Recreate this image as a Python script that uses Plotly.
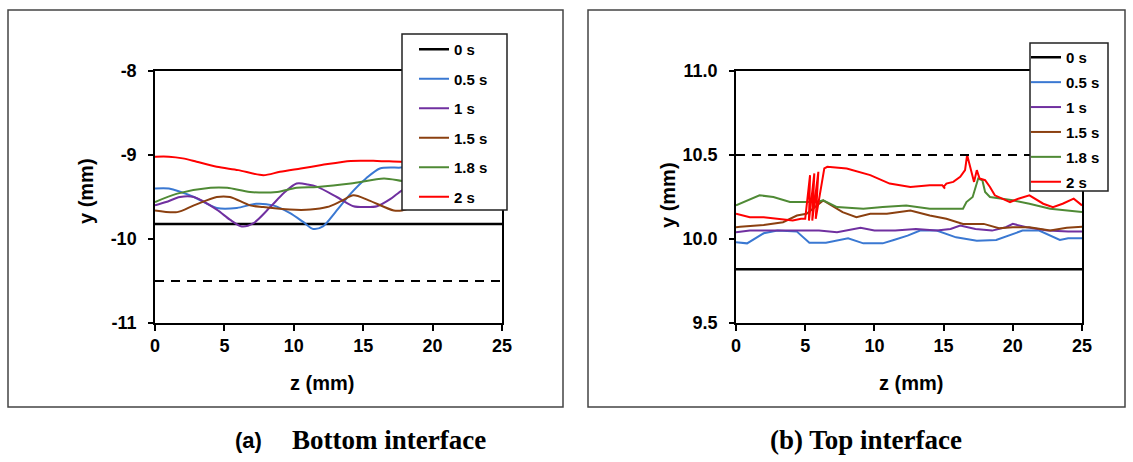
import plotly.graph_objects as go

W, H = 1133, 462

# ---------------- data ----------------
series_names = ["0 s", "0.5 s", "1 s", "1.5 s", "1.8 s", "2 s"]
series_colors = ["#000000", "#3A78D2", "#7030A0", "#8B4010", "#4F8A35", "#FF0000"]

# (a) Bottom interface
a_z0 = [0, 25]
a_y0 = [-9.82, -9.82]
a_zdash = [0, 24.9]
a_ydash = [-10.5, -10.5]
a_z05 = [0, 1.0, 2.8, 4.45, 5.9, 7.3, 8.5, 9.7, 10.7, 11.4, 12.1, 13.0, 14.1, 15.2, 16.2, 17.7, 19, 21, 23, 25]
a_y05 = [-9.40, -9.40, -9.50, -9.63, -9.63, -9.58, -9.60, -9.69, -9.80, -9.88, -9.85, -9.68, -9.46, -9.28, -9.16, -9.15, -9.14, -9.13, -9.14, -9.13]
a_z1 = [0, 0.8, 1.8, 2.8, 4.45, 5.4, 6.25, 7.1, 8.3, 9.3, 10.2, 11.0, 11.7, 13.1, 14.3, 15.2, 16.0, 17.0, 17.8, 19, 21, 23, 25]
a_y1 = [-9.60, -9.56, -9.50, -9.50, -9.65, -9.77, -9.85, -9.81, -9.62, -9.45, -9.34, -9.35, -9.38, -9.50, -9.61, -9.62, -9.61, -9.52, -9.42, -9.35, -9.40, -9.50, -9.45]
a_z15 = [0, 1.6, 2.8, 4.45, 5.4, 6.85, 7.8, 9.7, 11.2, 12.4, 13.4, 14.3, 15.4, 17.2, 17.8, 19, 21, 23, 25]
a_y15 = [-9.66, -9.68, -9.60, -9.50, -9.50, -9.60, -9.62, -9.65, -9.65, -9.62, -9.55, -9.48, -9.54, -9.66, -9.66, -9.60, -9.52, -9.58, -9.55]
a_z18 = [0, 1.6, 4.0, 5.2, 6.85, 8.8, 10.2, 11.7, 14.1, 16.5, 17.8, 19, 21, 23, 25]
a_y18 = [-9.56, -9.46, -9.39, -9.39, -9.44, -9.44, -9.39, -9.38, -9.34, -9.28, -9.31, -9.33, -9.30, -9.32, -9.30]
a_z2 = [0, 1.0, 2.0, 3.0, 4.45, 6.0, 7.8, 9.0, 10.5, 12.0, 14.1, 16.0, 17.7, 19, 21, 23, 25]
a_y2 = [-9.02, -9.02, -9.04, -9.08, -9.14, -9.18, -9.24, -9.20, -9.16, -9.12, -9.07, -9.07, -9.08, -9.08, -9.06, -9.07, -9.06]

# (b) Top interface
b_z0 = [0, 25]
b_y0 = [9.82, 9.82]
b_zdash = [0, 24.9]
b_ydash = [10.5, 10.5]
b_z05 = [0, 0.8, 2.0, 3.0, 4.4, 4.9, 5.3, 6.5, 7.5, 8.1, 9.2, 10.6, 11.4, 12.4, 13.3, 14.5, 15.9, 17.4, 18.8, 20.0, 20.7, 21.9, 23.0, 23.4, 24.0, 25]
b_y05 = [9.98, 9.974, 10.034, 10.05, 10.044, 10.01, 9.978, 9.978, 9.994, 10.004, 9.974, 9.974, 9.994, 10.02, 10.05, 10.05, 10.01, 9.99, 9.994, 10.03, 10.05, 10.05, 10.01, 9.994, 10.004, 10.004]
b_z1 = [0, 1, 2, 4, 6, 7.3, 8.3, 9.0, 10, 11.5, 13, 14.5, 15.5, 16.2, 17.3, 18.5, 19.5, 20, 21, 22.5, 24, 25]
b_y1 = [10.04, 10.05, 10.05, 10.05, 10.05, 10.04, 10.055, 10.067, 10.05, 10.05, 10.06, 10.05, 10.06, 10.08, 10.06, 10.05, 10.07, 10.09, 10.07, 10.05, 10.045, 10.044]
b_z15 = [0, 0.3, 2.0, 3.4, 4.4, 5.1, 6.3, 7.7, 8.7, 9.7, 10.9, 12.6, 14.0, 15.2, 16.4, 17.9, 19.0, 20.0, 21.2, 22.7, 23.9, 25]
b_y15 = [10.07, 10.073, 10.083, 10.10, 10.14, 10.15, 10.23, 10.16, 10.13, 10.15, 10.15, 10.17, 10.14, 10.12, 10.09, 10.09, 10.064, 10.07, 10.07, 10.05, 10.067, 10.073]
b_z18 = [0, 1.7, 2.7, 3.9, 5.8, 6.3, 7.3, 9.2, 10.6, 12.3, 14.0, 16.4, 16.65, 17.1, 17.5, 17.8, 18.0, 18.35, 20.0, 21.2, 22.7, 23.9, 25]
b_y18 = [10.20, 10.26, 10.25, 10.22, 10.22, 10.23, 10.19, 10.18, 10.19, 10.20, 10.18, 10.18, 10.22, 10.25, 10.36, 10.35, 10.28, 10.25, 10.23, 10.21, 10.18, 10.17, 10.16]
b_z2 = [0, 1.0, 2.0, 3.2, 4.1, 4.7, 5.0, 5.35, 5.27, 5.66, 5.51, 5.95, 5.76, 6.38, 6.6, 8.0, 9.7, 11.1, 12.6, 14.0, 14.9, 15.1, 15.0, 15.2, 15.7, 16.2, 16.55, 16.7, 16.9, 17.2, 17.4, 17.6, 18.0, 18.35, 18.7, 19.2, 19.8, 20.4, 21.2, 22.2, 22.9, 23.6, 24.4, 25]
b_y2 = [10.15, 10.13, 10.13, 10.12, 10.11, 10.12, 10.12, 10.38, 10.11, 10.39, 10.11, 10.40, 10.12, 10.42, 10.43, 10.42, 10.38, 10.33, 10.31, 10.32, 10.32, 10.30, 10.31, 10.33, 10.34, 10.37, 10.41, 10.50, 10.44, 10.34, 10.41, 10.36, 10.35, 10.31, 10.26, 10.24, 10.22, 10.24, 10.26, 10.21, 10.19, 10.21, 10.24, 10.20]

x_ticks = [0, 5, 10, 15, 20, 25]
x_ticktext = ["0", "5", "10", "15", "20", "25"]
a_yticks = [-11, -10, -9, -8]
a_yticktext = ["-11", "-10", "-9", "-8"]
b_yticks = [9.5, 10.0, 10.5, 11.0]
b_yticktext = ["9.5", "10.0", "10.5", "11.0"]

# ---------------- helpers ----------------
def px(x):
    return x / W

def py(y):
    return 1 - y / H

SANS = "Liberation Sans"
SERIF = "Liberation Serif"

fig = go.Figure()

a_data = [(a_z0, a_y0), (a_z05, a_y05), (a_z1, a_y1), (a_z15, a_y15), (a_z18, a_y18), (a_z2, a_y2)]
b_data = [(b_z0, b_y0), (b_z05, b_y05), (b_z1, b_y1), (b_z15, b_y15), (b_z18, b_y18), (b_z2, b_y2)]

for i, (z, y) in enumerate(a_data):
    fig.add_trace(go.Scatter(
        x=z, y=y, mode="lines", name=series_names[i],
        line=dict(color=series_colors[i], width=2.5 if i == 0 else 2, shape="spline" if i else "linear", smoothing=0.8),
        xaxis="x", yaxis="y", legend="legend", legendgroup="a%d" % i))
fig.add_trace(go.Scatter(x=a_zdash, y=a_ydash, mode="lines", showlegend=False,
                         line=dict(color="black", width=2, dash="9px,7px"), xaxis="x", yaxis="y"))

for i, (z, y) in enumerate(b_data):
    fig.add_trace(go.Scatter(
        x=z, y=y, mode="lines", name=series_names[i],
        line=dict(color=series_colors[i], width=2.5 if i == 0 else 2),
        xaxis="x2", yaxis="y2", legend="legend2", legendgroup="b%d" % i))
fig.add_trace(go.Scatter(x=b_zdash, y=b_ydash, mode="lines", showlegend=False,
                         line=dict(color="black", width=2, dash="9px,7px"), xaxis="x2", yaxis="y2"))

tickfont = dict(family=SANS, size=18, color="black", weight="bold")
common_x = dict(range=[0, 25], tickvals=x_ticks, ticktext=x_ticktext, ticks="outside", ticklen=6,
                tickwidth=1.5, tickcolor="black", showline=True, linecolor="black", linewidth=1.5,
                mirror=True, showgrid=False, zeroline=False, tickfont=tickfont, automargin=False)
common_y = dict(ticks="outside", ticklen=5, tickwidth=1.5, tickcolor="black", showline=True,
                linecolor="black", linewidth=1.5, mirror=True, showgrid=False, zeroline=False,
                tickfont=tickfont, automargin=False, ticklabelstandoff=8)

legfont = dict(family=SANS, size=15, color="black", weight="bold")
plot_top, plot_bot = 71, 323
fig.update_layout(
    width=W, height=H, margin=dict(l=0, r=0, t=0, b=0),
    paper_bgcolor="white", plot_bgcolor="white",
    xaxis=dict(domain=[px(155), px(502)], anchor="y", **common_x),
    yaxis=dict(domain=[py(plot_bot), py(plot_top)], anchor="x", range=[-11, -8],
               tickvals=a_yticks, ticktext=a_yticktext, **common_y),
    xaxis2=dict(domain=[px(736), px(1082)], anchor="y2", **common_x),
    yaxis2=dict(domain=[py(plot_bot), py(plot_top)], anchor="x2", range=[9.5, 11],
                tickvals=b_yticks, ticktext=b_yticktext, **common_y),
    legend=dict(x=px(414), y=py(33), xanchor="left", yanchor="top", bgcolor="rgba(0,0,0,0)",
                borderwidth=0, font=legfont, traceorder="grouped", tracegroupgap=7, itemwidth=30),
    legend2=dict(x=px(1026), y=py(41), xanchor="left", yanchor="top", bgcolor="rgba(0,0,0,0)",
                 borderwidth=0, font=legfont, traceorder="grouped", tracegroupgap=2.4, itemwidth=30),
    showlegend=True,
)

shapes = [
    # panel frames
    dict(type="rect", xref="paper", yref="paper", x0=px(8), x1=px(563), y0=py(407), y1=py(10),
         line=dict(color="#444444", width=1.5), layer="below"),
    dict(type="rect", xref="paper", yref="paper", x0=px(588), x1=px(1125), y0=py(407), y1=py(10),
         line=dict(color="#444444", width=1.5), layer="below"),
    # legend boxes
    dict(type="rect", xref="paper", yref="paper", x0=px(402), x1=px(507), y0=py(210), y1=py(34),
         line=dict(color="#222222", width=1.5), fillcolor="white", layer="above"),
    dict(type="rect", xref="paper", yref="paper", x0=px(1030), x1=px(1108), y0=py(191), y1=py(43),
         line=dict(color="#222222", width=1.5), fillcolor="white", layer="above"),
]
fig.update_layout(shapes=shapes)

title_font = dict(family=SANS, size=20, color="black", weight="bold")
ann = [
    dict(text="y (mm)", x=px(86), y=py(191), textangle=-90, font=title_font),
    dict(text="z (mm)", x=px(322), y=py(383), font=title_font),
    dict(text="y (mm)", x=px(668), y=py(195), textangle=-90, font=title_font),
    dict(text="z (mm)", x=px(911), y=py(383), font=title_font),
    dict(text="(a)", x=px(248), y=py(440), font=dict(family=SANS, size=22, color="black", weight="bold")),
    dict(text="Bottom interface", x=px(389), y=py(440), font=dict(family=SERIF, size=27, color="black", weight="bold")),
    dict(text="(b) Top interface", x=px(866), y=py(440), font=dict(family=SERIF, size=27, color="black", weight="bold")),
]
for a in ann:
    a.update(xref="paper", yref="paper", showarrow=False, xanchor="center", yanchor="middle")
fig.update_layout(annotations=ann)

fig.write_html("out.html")
